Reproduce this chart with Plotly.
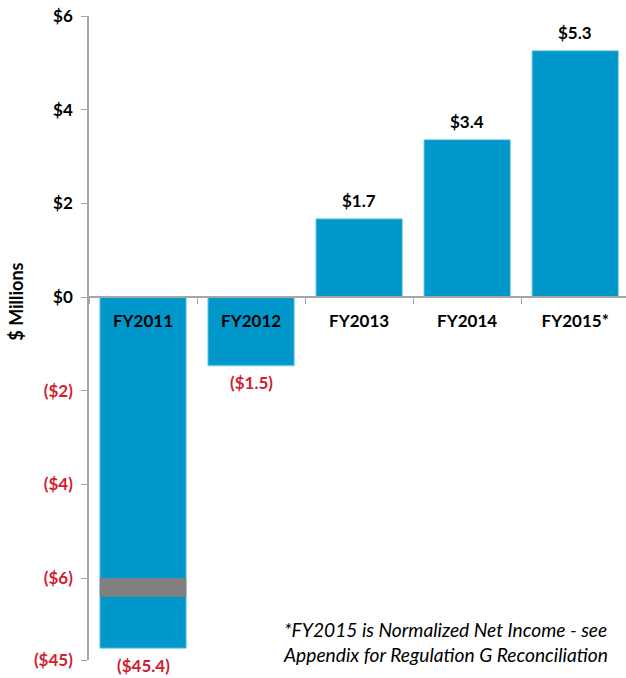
import plotly.graph_objects as go

# ---- data ----
categories = ["FY2011", "FY2012", "FY2013", "FY2014", "FY2015*"]
net_income = [-45.4, -1.47, 1.67, 3.36, 5.26]   # $ millions

# broken-axis settings (axis scale, not data)
AXIS_BREAK = -6.0          # values below this are compressed
BREAK_BAND = 0.4           # height of gray break marker
BROKEN_BAR_END = -7.5      # where a broken bar ends on the display scale
Y_MIN, Y_MAX = -7.75, 6.0

y_tickvals = [6, 4, 2, 0, -2, -4, -6, -7.75]
y_ticklabels = ["$6", "$4", "$2", "$0", "($2)", "($4)", "($6)", "($45)"]

BLUE = "#0097CB"
RED = "#D0202E"
GRAY = "#808080"
AXIS_GRAY = "#A6A6A6"
FONT = "Lato"
FS = 17


def display(v):
    return v if v >= AXIS_BREAK else BROKEN_BAR_END


def fmt(v):
    return f"${v:.1f}" if v >= 0 else f"(${-v:.1f})"


disp_vals = [display(v) for v in net_income]

tick_text = []
for tv, tl in zip(y_tickvals, y_ticklabels):
    if tv < 0:
        tick_text.append(f'<span style="color:{RED}">{tl}</span>')
    else:
        tick_text.append(tl)

broken_x = [c for c, v in zip(categories, net_income) if v < AXIS_BREAK]

fig = go.Figure()
fig.add_trace(go.Bar(
    x=categories, y=disp_vals,
    marker=dict(color=BLUE, line=dict(color="#8FD6EE", width=1)),
    hoverinfo="skip", showlegend=False,
))
fig.add_trace(go.Bar(
    x=broken_x, y=[-BREAK_BAND] * len(broken_x), base=[AXIS_BREAK] * len(broken_x),
    marker=dict(color=GRAY, line=dict(width=0)),
    hoverinfo="skip", showlegend=False,
))

annotations = []
for c, v, d in zip(categories, net_income, disp_vals):
    annotations.append(dict(
        text=fmt(v), x=c, y=d, xref="x", yref="y",
        xanchor="center", yanchor="middle", showarrow=False,
        yshift=18 if v >= 0 else -17,
        font=dict(family=FONT, size=FS, color="black" if v >= 0 else RED, weight="bold"),
    ))

annotations += [
    dict(text="$ Millions", textangle=-90, xref="paper", yref="y",
         x=-0.136, y=-0.1, xanchor="center", yanchor="middle", showarrow=False,
         font=dict(family=FONT, size=18, color="black", weight="bold")),
    dict(text="*FY2015 is Normalized Net Income - see<br>Appendix for Regulation G Reconciliation",
         xref="paper", yref="paper", x=0.357, y=-0.012, xanchor="left", yanchor="bottom",
         align="left", showarrow=False,
         font=dict(family=FONT, size=19.2, color="black", style="italic")),
]

fig.update_layout(
    width=626, height=678,
    margin=dict(l=89, r=0, t=16, b=18),
    paper_bgcolor="white", plot_bgcolor="white",
    barmode="overlay", bargap=0.2,
    font=dict(family=FONT, size=FS, color="black"),
    xaxis=dict(
        type="category", range=[-0.5, 4.47],
        anchor="free", position=(0 - Y_MIN) / (Y_MAX - Y_MIN),
        showline=True, linecolor=AXIS_GRAY, linewidth=1.5,
        ticks="outside", tickson="boundaries", ticklen=6, tickcolor=AXIS_GRAY,
        ticklabelstandoff=9,
        tickfont=dict(family=FONT, size=FS, color="black", weight="bold"),
        showgrid=False, zeroline=False,
    ),
    yaxis=dict(
        range=[Y_MIN, Y_MAX],
        tickmode="array", tickvals=y_tickvals, ticktext=tick_text,
        showline=True, linecolor=AXIS_GRAY, linewidth=1.5,
        ticks="outside", ticklen=6, tickcolor=AXIS_GRAY,
        ticklabelstandoff=5,
        tickfont=dict(family=FONT, size=FS, color="black", weight="bold"),
        showgrid=False, zeroline=False,
    ),
    annotations=annotations,
)

fig.write_html("out.html")
